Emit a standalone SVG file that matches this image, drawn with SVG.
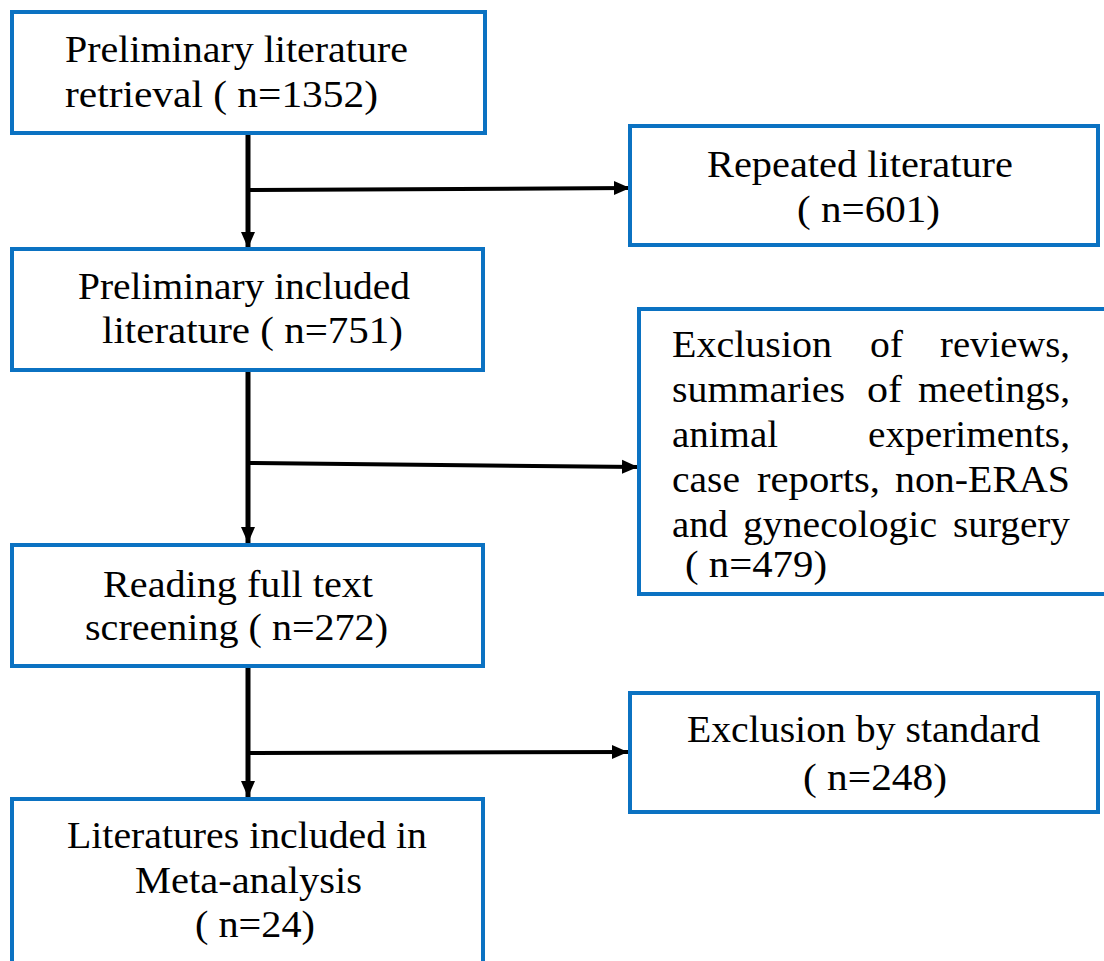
<svg xmlns="http://www.w3.org/2000/svg" width="1104" height="961" viewBox="0 0 1104 961">
<style>
.box{fill:#fff;stroke:#0B72C2;stroke-width:4}
.t{font-family:"Liberation Serif","Times New Roman",serif;font-size:37px;fill:#000}
.c{fill:none;stroke:#000;stroke-width:5}
.h{fill:none;stroke:#000;stroke-width:4}
</style>
<defs>
<marker id="ah" markerUnits="userSpaceOnUse" markerWidth="16" markerHeight="16" viewBox="0 0 16 16" refX="16" refY="8" orient="auto">
<path d="M0,1 L16,8 L0,15 Z" fill="#000"/>
</marker>
</defs>
<rect width="1104" height="961" fill="#fff"/>
<g id="connectors">
<line class="c" x1="248" y1="135" x2="248" y2="248" marker-end="url(#ah)"/>
<line class="h" x1="248" y1="190" x2="630" y2="188" marker-end="url(#ah)"/>
<line class="c" x1="248" y1="372" x2="248" y2="543" marker-end="url(#ah)"/>
<line class="h" x1="248" y1="463" x2="638" y2="467" marker-end="url(#ah)"/>
<line class="c" x1="248" y1="668" x2="248" y2="797" marker-end="url(#ah)"/>
<line class="h" x1="248" y1="753" x2="628" y2="752" marker-end="url(#ah)"/>
</g>
<g id="n1">
<rect class="box" x="12" y="12" width="473" height="121"/>
<text class="t" x="65" y="62" textLength="343" lengthAdjust="spacingAndGlyphs">Preliminary literature</text>
<text class="t" x="65" y="107" textLength="313" lengthAdjust="spacingAndGlyphs">retrieval ( n=1352)</text>
</g>
<g id="n2">
<rect class="box" x="12" y="249" width="471" height="121"/>
<text class="t" x="78" y="299" textLength="332" lengthAdjust="spacingAndGlyphs">Preliminary included</text>
<text class="t" x="102" y="343" textLength="301" lengthAdjust="spacingAndGlyphs">literature ( n=751)</text>
</g>
<g id="n3">
<rect class="box" x="12" y="545" width="471" height="121"/>
<text class="t" x="103" y="597" textLength="270" lengthAdjust="spacingAndGlyphs">Reading full text</text>
<text class="t" x="85" y="640" textLength="303" lengthAdjust="spacingAndGlyphs">screening ( n=272)</text>
</g>
<g id="n4">
<rect class="box" x="12" y="799" width="471" height="200"/>
<text class="t" x="67" y="848" textLength="360" lengthAdjust="spacingAndGlyphs">Literatures included in</text>
<text class="t" x="135" y="893" textLength="227" lengthAdjust="spacingAndGlyphs">Meta-analysis</text>
<text class="t" x="195" y="937" textLength="120" lengthAdjust="spacingAndGlyphs">( n=24)</text>
</g>
<g id="r1">
<rect class="box" x="630" y="126" width="468" height="119"/>
<text class="t" x="707" y="177" textLength="306" lengthAdjust="spacingAndGlyphs">Repeated literature</text>
<text class="t" x="797" y="222" textLength="143" lengthAdjust="spacingAndGlyphs">( n=601)</text>
</g>
<g id="r2">
<rect class="box" x="639" y="309" width="480" height="285"/>
<text class="t" x="672" y="357" textLength="160" lengthAdjust="spacingAndGlyphs">Exclusion</text>
<text class="t" x="870" y="357" textLength="33" lengthAdjust="spacingAndGlyphs">of</text>
<text class="t" x="940" y="357" textLength="130" lengthAdjust="spacingAndGlyphs">reviews,</text>
<text class="t" x="672" y="402" textLength="173" lengthAdjust="spacingAndGlyphs">summaries</text>
<text class="t" x="867" y="402" textLength="35" lengthAdjust="spacingAndGlyphs">of</text>
<text class="t" x="918" y="402" textLength="152" lengthAdjust="spacingAndGlyphs">meetings,</text>
<text class="t" x="672" y="447" textLength="106" lengthAdjust="spacingAndGlyphs">animal</text>
<text class="t" x="868" y="447" textLength="202" lengthAdjust="spacingAndGlyphs">experiments,</text>
<text class="t" x="672" y="492" textLength="68" lengthAdjust="spacingAndGlyphs">case</text>
<text class="t" x="757" y="492" textLength="123" lengthAdjust="spacingAndGlyphs">reports,</text>
<text class="t" x="895" y="492" textLength="175" lengthAdjust="spacingAndGlyphs">non-ERAS</text>
<text class="t" x="672" y="537" textLength="56" lengthAdjust="spacingAndGlyphs">and</text>
<text class="t" x="743" y="537" textLength="194" lengthAdjust="spacingAndGlyphs">gynecologic</text>
<text class="t" x="953" y="537" textLength="117" lengthAdjust="spacingAndGlyphs">surgery</text>
<text class="t" x="685" y="577" textLength="142" lengthAdjust="spacingAndGlyphs">( n=479)</text>
</g>
<g id="r3">
<rect class="box" x="630" y="693" width="468" height="119"/>
<text class="t" x="687" y="742" textLength="353" lengthAdjust="spacingAndGlyphs">Exclusion by standard</text>
<text class="t" x="803" y="790" textLength="144" lengthAdjust="spacingAndGlyphs">( n=248)</text>
</g>
</svg>
